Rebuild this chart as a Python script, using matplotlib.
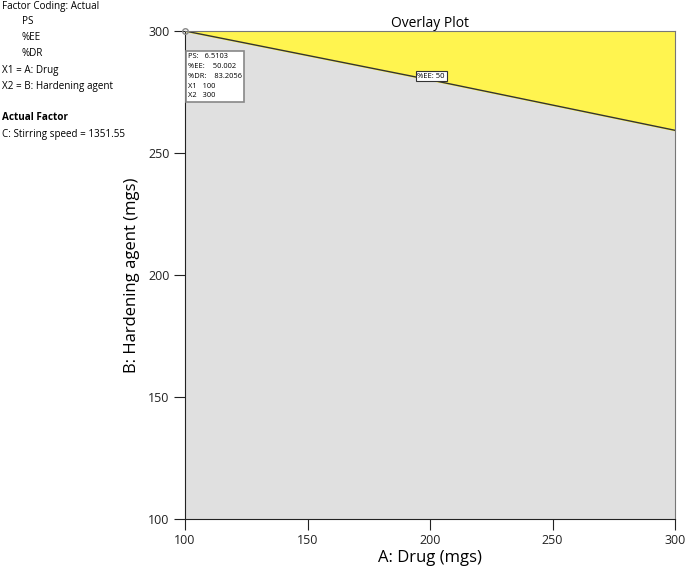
import matplotlib
matplotlib.use("Agg")
import matplotlib.pyplot as plt

# Data
boundary_drug = [100, 200, 300]
boundary_hard = [300, 280, 259.3]
x_ticks = [100, 150, 200, 250, 300]
y_ticks = [100, 150, 200, 250, 300]
point = (100, 300)
tooltip = ["PS:   6.5103", "%EE:    50.002", "%DR:    83.2056", "X1   100", "X2   300"]
contour_label = "%EE: 50"
contour_label_pos = (200.5, 281.5)

plt.rcParams['font.family'] = ['Open Sans', 'DejaVu Sans']

fig = plt.figure(figsize=(6.85, 5.72), dpi=100)
ax = fig.add_axes([185/685, 1-519/572, 490/685, 488/572])
ax.set_xlim(100, 300)
ax.set_ylim(100, 300)

ax.fill_between(boundary_drug, 100, boundary_hard, color='#e0e0e0', zorder=1)
ax.fill_between(boundary_drug, boundary_hard, 300, color='#fff44f', zorder=1)
ax.plot(boundary_drug, boundary_hard, color='#333333', lw=1.0, zorder=2)
ax.plot([point[0]], [point[1]], marker='o', ms=4, mfc='none', mec='#888888', clip_on=False, zorder=4)

ax.text(contour_label_pos[0], contour_label_pos[1], contour_label, fontsize=5.5, ha='center', va='center',
        bbox=dict(boxstyle='square,pad=0.2', fc='white', ec='#333333', lw=0.8), zorder=5)

ax.text(101.2, 290.8, "\n".join(tooltip), fontsize=5.4, ha='left', va='top', linespacing=1.55,
        bbox=dict(boxstyle='square,pad=0.3', fc='white', ec='#888888', lw=1.2), zorder=5)

ax.set_xticks(x_ticks)
ax.set_yticks(y_ticks)
ax.tick_params(direction='out', length=8, width=0.8, labelsize=9, colors='#222222', pad=3)
for s in ['left', 'bottom']:
    ax.spines[s].set_color('#222222')
for s in ['top', 'right']:
    ax.spines[s].set_color('#777777')
ax.set_xlabel("A: Drug (mgs)", fontsize=12, labelpad=2)
ax.set_ylabel("B: Hardening agent (mgs)", fontsize=12, labelpad=6)
ax.set_title("Overlay Plot", fontsize=10, pad=3)

lines = [(2, 6, "Factor Coding: Actual", 'normal'),
         (22, 22, "PS", 'normal'),
         (22, 38, "%EE", 'normal'),
         (22, 54, "%DR", 'normal'),
         (2, 70, "X1 = A: Drug", 'normal'),
         (2, 86, "X2 = B: Hardening agent", 'normal'),
         (2, 118, "Actual Factor", 'bold'),
         (2, 134, "C: Stirring speed = 1351.55", 'normal')]
for x, y, t, w in lines:
    fig.text(x/685, 1-y/572, t, fontsize=7.1, ha='left', va='center', weight=w)

fig.savefig("out.png", dpi=100)
